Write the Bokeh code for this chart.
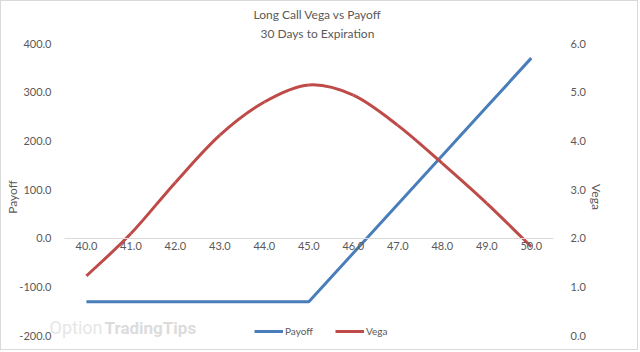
from bokeh.plotting import figure
from bokeh.models import (Range1d, LinearAxis, FixedTicker, NumeralTickFormatter,
                          Legend, LegendItem, Label, Title, ColumnDataSource)
from bokeh.embed import file_html
from bokeh.resources import INLINE

# ---- data ----
prices = [40.0, 41.0, 42.0, 43.0, 44.0, 45.0, 46.0, 47.0, 48.0, 49.0, 50.0]
payoff = [-130, -130, -130, -130, -130, -130, -30, 70, 170, 270, 370]
vega = [1.23, 2.10, 3.15, 4.12, 4.80, 5.15, 4.94, 4.32, 3.54, 2.72, 1.83]
payoff_ticks = [-200, -100, 0, 100, 200, 300, 400]
vega_ticks = [0, 1, 2, 3, 4, 5, 6]
title_main = "Long Call Vega vs Payoff"
title_sub = "30 Days to Expiration"

FONT = "Lato"
TXT = "#595959"
BLUE = "#4a7ebb"
RED = "#be4b48"

p = figure(width=638, height=350, output_backend="svg", toolbar_location=None,
           x_range=Range1d(39.08, 50.5), y_range=Range1d(-230, 400),
           min_border_left=44, min_border_right=86, min_border_top=42,
           min_border_bottom=1, outline_line_color=None)
p.styles = {"border": "1px solid #d9d9d9"}
p.extra_y_ranges = {"vega": Range1d(-0.3, 6)}
p.xgrid.visible = False
p.ygrid.visible = False

# titles
p.add_layout(Title(text=title_sub, align="left", offset=215, text_font=FONT,
                   text_font_size="12px", text_font_style="normal",
                   text_color=TXT, standoff=5), "above")
p.add_layout(Title(text=title_main, align="left", offset=208, text_font=FONT,
                   text_font_size="12px", text_font_style="normal",
                   text_color=TXT, standoff=0), "above")

# x axis at y = 0
xa = p.xaxis[0]
xa.ticker = FixedTicker(ticks=prices)
xa.formatter = NumeralTickFormatter(format="0.0")
xa.fixed_location = 0
xa.bounds = (39.5, 50.5)
xa.axis_line_color = "#d9d9d9"
xa.major_tick_line_color = None
xa.minor_tick_line_color = None
xa.major_tick_out = 0
xa.major_tick_in = 0
xa.major_label_standoff = 4
xa.major_label_text_font = FONT
xa.major_label_text_font_size = "11px"
xa.major_label_text_color = TXT

# left axis
ya = p.yaxis[0]
ya.ticker = FixedTicker(ticks=payoff_ticks)
ya.formatter = NumeralTickFormatter(format="0.0")
ya.axis_line_color = None
ya.major_tick_line_color = None
ya.minor_tick_line_color = None
ya.major_tick_out = 0
ya.major_tick_in = 0
ya.major_label_standoff = -6
ya.major_label_text_font = FONT
ya.major_label_text_font_size = "11px"
ya.major_label_text_color = TXT
ya.axis_label = "Payoff"
ya.axis_label_text_font = FONT
ya.axis_label_text_font_size = "12px"
ya.axis_label_text_font_style = "normal"
ya.axis_label_text_color = TXT
ya.axis_label_standoff = -4

# right axis
ra = LinearAxis(y_range_name="vega", ticker=FixedTicker(ticks=vega_ticks),
                formatter=NumeralTickFormatter(format="0.0"),
                axis_line_color=None, major_tick_line_color=None,
                minor_tick_line_color=None, major_tick_out=0, major_tick_in=0,
                major_label_standoff=17,
                major_label_text_font=FONT, major_label_text_font_size="11px",
                major_label_text_color=TXT, axis_label="Vega",
                axis_label_text_font=FONT, axis_label_text_font_size="12px",
                axis_label_text_font_style="normal", axis_label_text_color=TXT,
                axis_label_standoff=0)
p.add_layout(ra, "right")

# watermark
p.add_layout(Label(x=4, y=13, x_units="screen", y_units="screen", text="Option",
                   text_font="Roboto", text_font_size="18px", text_color="#e6e6e6",
                   level="underlay"))
p.add_layout(Label(x=59, y=13, x_units="screen", y_units="screen", text="TradingTips",
                   text_font="Roboto", text_font_size="17px", text_font_style="bold",
                   text_color="#dcdcdc", level="underlay"))

# payoff line
pay_r = p.line(prices, payoff, line_color=BLUE, line_width=3, line_join="round")

# vega smoothed line via cubic bezier segments (Catmull-Rom control points)
n = len(prices)
x0, y0, x1, y1, cx0, cy0, cx1, cy1 = [], [], [], [], [], [], [], []
for i in range(n - 1):
    xm, ym = prices[max(i - 1, 0)], vega[max(i - 1, 0)]
    xa_, ya_ = prices[i], vega[i]
    xb, yb = prices[i + 1], vega[i + 1]
    xp, yp = prices[min(i + 2, n - 1)], vega[min(i + 2, n - 1)]
    x0.append(xa_); y0.append(ya_); x1.append(xb); y1.append(yb)
    cx0.append(xa_ + (xb - xm) / 6.0); cy0.append(ya_ + (yb - ym) / 6.0)
    cx1.append(xb - (xp - xa_) / 6.0); cy1.append(yb - (yp - ya_) / 6.0)
src = ColumnDataSource(dict(x0=x0, y0=y0, x1=x1, y1=y1, cx0=cx0, cy0=cy0, cx1=cx1, cy1=cy1))
vega_r = p.bezier(x0="x0", y0="y0", x1="x1", y1="y1", cx0="cx0", cy0="cy0",
                  cx1="cx1", cy1="cy1", source=src, line_color=RED, line_width=3,
                  y_range_name="vega")

legend = Legend(items=[LegendItem(label="Payoff", renderers=[pay_r]),
                       LegendItem(label="Vega", renderers=[vega_r])],
                orientation="horizontal", location=(209, 13),
                background_fill_alpha=0, border_line_color=None,
                padding=0, margin=0, spacing=22, glyph_width=29, glyph_height=12,
                label_height=12, label_standoff=2, label_text_font=FONT,
                label_text_font_size="10px", label_text_color=TXT)
p.add_layout(legend, "center")

open("out.html", "w").write(file_html(p, INLINE))
